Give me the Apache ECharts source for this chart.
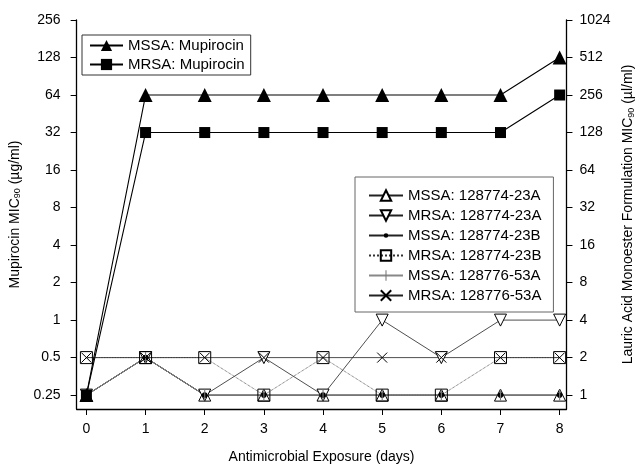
<!DOCTYPE html>
<html><head><meta charset="utf-8">
<script src="https://cdn.jsdelivr.net/npm/echarts@6/dist/echarts.min.js"></script>
<style>html,body{margin:0;padding:0;background:#fff}#c{width:644px;height:469px}</style>
</head><body><div id="c"></div>
<script>
// ---- data ----
const days = [0, 1, 2, 3, 4, 5, 6, 7, 8];
const leftTicks = [0.25, 0.5, 1, 2, 4, 8, 16, 32, 64, 128, 256];
const rightTicks = [1, 2, 4, 8, 16, 32, 64, 128, 256, 512, 1024];
// Mupirocin MIC90 (µg/ml) - left axis
const mssaMupirocin = [0.25, 64, 64, 64, 64, 64, 64, 64, 128];
const mrsaMupirocin = [0.25, 32, 32, 32, 32, 32, 32, 32, 64];
// Lauric acid monoester formulation MIC90 (µl/ml) - right axis
const mssa23A = [1, 2, 1, 1, 1, 1, 1, 1, 1];
const mrsa23A = [1, 2, 1, 2, 1, 4, 2, 4, 4];
const mssa23B = [1, 2, 1, 1, 1, 1, 1, 1, 1];
const mrsa23B = [2, 2, 2, 1, 2, 1, 1, 2, 2];
const mssa53A = [1, 2, 1, 1, 1, 1, 1, 1, 1];
const mrsa53A = [2, 2, 2, 2, 2, 2, 2, 2, 2];

const FONT = 'Liberation Sans';
const log2 = v => Math.log2(v);
const pad = 0.37;
const toPts = arr => days.map((d, i) => [d, log2(arr[i])]);
const fmt = v => String(Math.pow(2, v));

// symbol shapes (square bounding boxes so legend icons keep proportions)
const SPECKS = ' M0,0L0.04,0L0.04,0.04L0,0.04Z M11.96,11.96L12,11.96L12,12L11.96,12Z';
const DOT = 'path://M6,3.4A2.6,2.6,0,1,1,6,8.6A2.6,2.6,0,1,1,6,3.4Z' + SPECKS;
const BAR = 'path://M5.4,0L6.6,0L6.6,12L5.4,12Z' + SPECKS;
const CROSS = 'path://M0,0L10,10M10,0L0,10';

const chart = echarts.init(document.getElementById('c'), null, {renderer: 'canvas'});

function lauric(name, arr, symbol, size, color, border, extra) {
  return Object.assign({
    name: name, type: 'line', yAxisIndex: 1, data: toPts(arr),
    symbol: symbol, symbolSize: size, showAllSymbol: true,
    lineStyle: {color: '#222', width: 0.8},
    itemStyle: {color: color, borderColor: border, borderWidth: 1, opacity: 1},
    emphasis: {disabled: true}, z: 3
  }, extra || {});
}

const nameRich = {
  t: {fontFamily: FONT, fontSize: 14, color: '#000'},
  s: {fontFamily: FONT, fontSize: 9, color: '#000', verticalAlign: 'bottom', padding: [6, 0, 0, 0]}
};

const option = {
  animation: false,
  backgroundColor: '#fff',
  grid: {left: 69, right: 72, top: 20, bottom: 55, containLabel: false},
  xAxis: {
    type: 'value', min: days[0] - 0.165, max: days[days.length - 1] + 0.115,
    name: 'Antimicrobial Exposure (days)', nameLocation: 'middle', nameGap: 41,
    nameTextStyle: {fontFamily: FONT, fontSize: 14, color: '#000'},
    axisLine: {show: true, onZero: false, lineStyle: {color: '#000', width: 1.3}},
    axisTick: {show: true, length: 6, customValues: days, lineStyle: {color: '#000'}},
    axisLabel: {customValues: days, margin: 13, fontFamily: FONT, fontSize: 14, color: '#000'},
    splitLine: {show: false}
  },
  yAxis: [{
    type: 'value', position: 'left',
    min: log2(leftTicks[0]) - pad, max: log2(leftTicks[leftTicks.length - 1]),
    name: '{t|Mupirocin MIC}{s|90}{t| (µg/ml)}', nameLocation: 'middle', nameGap: 41, nameRotate: 90,
    nameTextStyle: {fontFamily: FONT, fontSize: 14, color: '#000', rich: nameRich},
    axisLine: {show: true, onZero: false, lineStyle: {color: '#000', width: 1.3}},
    axisTick: {show: true, length: 6, customValues: leftTicks.map(log2), lineStyle: {color: '#000'}},
    axisLabel: {customValues: leftTicks.map(log2), formatter: fmt, margin: 16, fontFamily: FONT, fontSize: 14, color: '#000'},
    splitLine: {show: false}
  }, {
    type: 'value', position: 'right',
    min: log2(rightTicks[0]) - pad, max: log2(rightTicks[rightTicks.length - 1]),
    name: '{t|Lauric Acid Monoester Formulation MIC}{s|90}{t| (µl/ml)}', nameLocation: 'middle', nameGap: 47, nameRotate: 90,
    nameTextStyle: {fontFamily: FONT, fontSize: 14, color: '#000', rich: nameRich},
    axisLine: {show: true, onZero: false, lineStyle: {color: '#000', width: 1.3}},
    axisTick: {show: true, length: 6, customValues: rightTicks.map(log2), lineStyle: {color: '#000'}},
    axisLabel: {customValues: rightTicks.map(log2), formatter: fmt, margin: 13, fontFamily: FONT, fontSize: 14, color: '#000'},
    splitLine: {show: false}
  }],
  legend: [{
    orient: 'vertical', left: 82, top: 35,
    data: ['MSSA: Mupirocin', 'MRSA: Mupirocin'],
    itemWidth: 33, itemHeight: 14, itemGap: 4, padding: [3, 6, 3, 7],
    borderColor: '#333', borderWidth: 1, backgroundColor: '#fff',
    textStyle: {fontFamily: FONT, fontSize: 15, color: '#000'}
  }, {
    orient: 'vertical', left: 355, top: 177,
    data: ['MSSA: 128774-23A', 'MRSA: 128774-23A', 'MSSA: 128774-23B', 'MRSA: 128774-23B', 'MSSA: 128776-53A', 'MRSA: 128776-53A'],
    itemWidth: 34, itemHeight: 13, itemGap: 5, padding: [11, 12, 9, 13],
    borderColor: '#666', borderWidth: 1, backgroundColor: '#fff',
    textStyle: {fontFamily: FONT, fontSize: 15, color: '#000'}
  }],
  series: [
    {
      name: 'MSSA: Mupirocin', type: 'line', yAxisIndex: 0, data: toPts(mssaMupirocin),
      symbol: 'triangle', symbolSize: 14, showAllSymbol: true,
      lineStyle: {color: '#000', width: 1.1}, itemStyle: {color: '#000'},
      emphasis: {disabled: true}, z: 5
    },
    {
      name: 'MRSA: Mupirocin', type: 'line', yAxisIndex: 0, data: toPts(mrsaMupirocin),
      symbol: 'rect', symbolSize: 11, showAllSymbol: true,
      lineStyle: {color: '#000', width: 1.1}, itemStyle: {color: '#000'},
      emphasis: {disabled: true}, z: 5
    },
    lauric('MSSA: 128774-23A', mssa23A, 'triangle', 12, '#fff', '#000'),
    lauric('MRSA: 128774-23A', mrsa23A, 'triangle', 12, '#fff', '#000', {symbolRotate: 180}),
    lauric('MSSA: 128774-23B', mssa23B, DOT, 13, '#000', '#000',
      {itemStyle: {color: '#000', borderWidth: 0}}),
    lauric('MRSA: 128774-23B', mrsa23B, 'rect', 12, 'rgba(255,255,255,0)', '#000',
      {lineStyle: {color: '#333', width: 0.8, type: 'dotted'}}),
    lauric('MSSA: 128776-53A', mssa53A, BAR, 11, '#777', '#777',
      {lineStyle: {color: '#888', width: 1}, itemStyle: {color: '#777', borderWidth: 0}}),
    lauric('MRSA: 128776-53A', mrsa53A, CROSS, 10, 'rgba(255,255,255,0)', '#000')
  ]
};
chart.setOption(option);
</script>
</body></html>
